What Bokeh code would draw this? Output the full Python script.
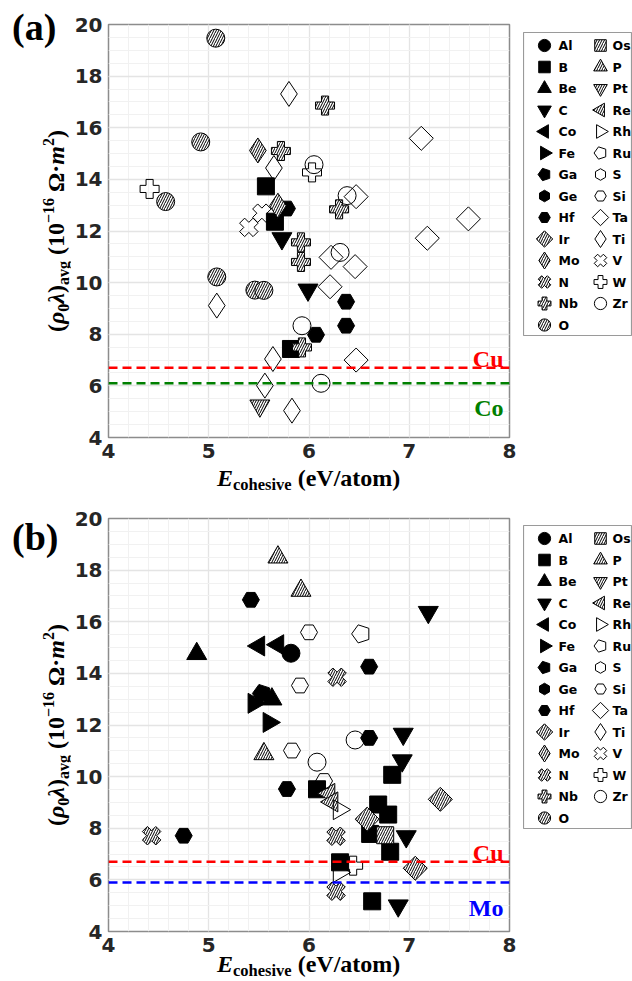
import math
from bokeh.plotting import figure
from bokeh.layouts import column, row
from bokeh.models import Range1d, SingleIntervalTicker, Span, Label, Div
from bokeh.embed import file_html
from bokeh.resources import INLINE
from bokeh.core.properties import value

# ---------------- data ----------------
ELEMENTS = ["Al", "B", "Be", "C", "Co", "Fe", "Ga", "Ge", "Hf", "Ir", "Mo", "N", "Nb", "O",
            "Os", "P", "Pt", "Re", "Rh", "Ru", "S", "Si", "Ta", "Ti", "V", "W", "Zr"]
X_TICKS = [4, 5, 6, 7, 8]
Y_TICKS = [4, 6, 8, 10, 12, 14, 16, 18, 20]

# panel (a): E_cohesive (eV/atom) vs rho0*lambda (1e-16 Ohm m^2)
a_O_x = [5.07, 4.92, 4.57, 5.08, 5.46, 5.55]
a_O_y = [19.47, 15.45, 13.14, 10.22, 9.71, 9.70]
a_Ti_x = [5.80, 5.65, 5.08, 5.64, 5.56, 5.83]
a_Ti_y = [17.31, 14.44, 9.11, 7.04, 6.01, 5.04]
a_Mo_x = [5.49, 5.69]
a_Mo_y = [15.12, 12.98]
a_Nb_x = [6.16, 5.72, 6.30, 5.92, 5.92, 5.93]
a_Nb_y = [16.86, 15.10, 12.84, 11.56, 10.80, 7.49]
a_Zr_x = [6.05, 6.38, 6.31, 5.93, 6.12]
a_Zr_y = [14.57, 13.37, 11.17, 8.33, 6.10]
a_W_x = [6.03, 4.41]
a_W_y = [14.27, 13.63]
a_B_x = [5.57, 5.66, 5.82]
a_B_y = [13.73, 12.36, 7.43]
a_Hf_x = [5.78, 6.37, 6.37, 6.07]
a_Hf_y = [12.87, 9.26, 8.33, 7.98]
a_V_x = [5.53, 5.40]
a_V_y = [12.69, 12.14]
a_C_x = [5.73, 5.99]
a_C_y = [11.71, 9.72]
a_Ta_x = [7.12, 6.47, 7.59, 7.18, 6.22, 6.46, 6.21, 6.47]
a_Ta_y = [15.59, 13.33, 12.47, 11.72, 10.98, 10.62, 9.84, 7.00]
a_Pt_x = [5.51]
a_Pt_y = [5.23]

# panel (b)
b_Al_x = [5.82]
b_Al_y = [14.78]
b_B_x = [6.83, 6.08, 6.69, 6.79, 6.61, 6.81, 6.31, 6.63]
b_B_y = [10.07, 9.51, 8.92, 8.53, 7.78, 7.09, 6.68, 5.17]
b_Be_x = [4.88, 5.63]
b_Be_y = [14.76, 13.00]
b_C_x = [7.19, 6.94, 6.93, 6.97, 6.89]
b_C_y = [16.37, 11.65, 10.62, 7.68, 5.00]
b_Co_x = [5.50, 5.69]
b_Co_y = [15.06, 15.11]
b_Fe_x = [5.45, 5.60]
b_Fe_y = [12.84, 12.10]
b_Ga_x = [5.53]
b_Ga_y = [13.22]
b_Hf_x = [5.42, 6.60, 6.60, 5.78, 4.75]
b_Hf_y = [16.85, 14.26, 11.50, 9.52, 7.71]
b_Ir_x = [7.31, 6.58, 7.06]
b_Ir_y = [9.12, 8.35, 6.45]
b_N_x = [6.28, 4.43, 6.27, 6.27]
b_N_y = [13.85, 7.71, 7.69, 5.56]
b_Os_x = [6.76]
b_Os_y = [7.73]
b_P_x = [5.69, 5.92, 5.55]
b_P_y = [18.50, 17.21, 10.88]
b_Re_x = [6.20, 6.23]
b_Re_y = [9.35, 9.02]
b_Rh_x = [6.30, 6.30]
b_Rh_y = [8.72, 6.29]
b_Ru_x = [6.52]
b_Ru_y = [15.53]
b_Si_x = [6.00, 5.91, 5.83, 6.15]
b_Si_y = [15.59, 13.53, 11.01, 9.83]
b_W_x = [6.44]
b_W_y = [6.55]
b_Zr_x = [6.46, 6.08]
b_Zr_y = [11.42, 10.56]

REF_A_NAMES = ["Cu", "Co"]
REF_A_VALUES = [6.7, 6.1]
REF_B_NAMES = ["Cu", "Mo"]
REF_B_VALUES = [6.7, 5.9]

# ---------------- styles ----------------
H = math.pi / 2
Q = math.pi / 4
STYLE = {
    "Al": ("circle", 0, "solid", 18), "B": ("square", 0, "solid", 17),
    "Be": ("triangle", 0, "solid", 20), "C": ("inverted_triangle", 0, "solid", 20),
    "Co": ("triangle", H, "solid", 20), "Fe": ("triangle", -H, "solid", 20),
    "Ga": ("pentagon", 0, "solid", 19), "Ge": ("hex", math.pi / 6, "solid", 17),
    "Hf": ("hex", 0, "solid", 17), "Ir": ("square", Q, "hatch", 17),
    "Mo": ("diamond", 0, "hatch", 25), "N": ("plus", Q, "hatch", 19),
    "Nb": ("plus", 0, "hatch", 19), "O": ("circle", 0, "hatch", 18),
    "Os": ("square", 0, "hatch", 17), "P": ("triangle", 0, "hatch", 20),
    "Pt": ("inverted_triangle", 0, "hatch", 20), "Re": ("triangle", H, "hatch", 20),
    "Rh": ("triangle", -H, "open", 20), "Ru": ("pentagon", 0, "open", 19),
    "S": ("hex", math.pi / 6, "open", 17), "Si": ("hex", 0, "open", 17),
    "Ta": ("square", Q, "open", 17), "Ti": ("diamond", 0, "open", 25),
    "V": ("plus", Q, "open", 19), "W": ("plus", 0, "open", 19),
    "Zr": ("circle", 0, "open", 18),
}
SERIF = "Liberation Serif"
SANS = "DejaVu Sans"
SERIF_BASE = 0.8375     # baseline offset in a line box with line-height 1em


def collect(prefix):
    g = globals()
    return {el: (g[f"{prefix}_{el}_x"], g[f"{prefix}_{el}_y"])
            for el in ELEMENTS if f"{prefix}_{el}_x" in g}


def draw(fig, xs, ys, el, k=1.0):
    mk, ang, kind, size = STYLE[el]
    size = size * k
    kw = dict(line_color="black", line_width=1)
    if kind == "solid":
        kw.update(fill_color="black")
    elif kind == "open":
        kw.update(fill_color=None)
    else:
        kw.update(fill_color="white", hatch_pattern="/", hatch_color="black",
                  hatch_scale=5, hatch_weight=1)
    if mk == "pentagon":
        try:
            fig.ngon(x=xs, y=ys, radius=size / 2, radius_units="screen", n=5,
                     angle=math.pi / 2, **kw)
            return
        except Exception:
            mk = "hex"
    fig.scatter(x=xs, y=ys, marker=mk, size=size, angle=ang, **kw)


def make_panel(prefix, ref_names, ref_values, ref_colors, ref_offsets, h, top):
    bottom = h - top - 413
    p = figure(width=453, height=h, x_range=Range1d(4, 8), y_range=Range1d(4, 20),
               output_backend="svg", toolbar_location=None, frame_align=False,
               min_border_left=38, min_border_right=14, min_border_top=top,
               min_border_bottom=bottom)
    xt = SingleIntervalTicker(interval=1, num_minor_ticks=5)
    yt = SingleIntervalTicker(interval=2, num_minor_ticks=4)
    p.xaxis.ticker = xt
    p.yaxis.ticker = yt
    p.xgrid.ticker = xt
    p.ygrid.ticker = yt
    for ax in (p.xaxis[0], p.yaxis[0]):
        ax.axis_line_color = None
        ax.major_tick_line_color = None
        ax.minor_tick_line_color = None
        ax.major_tick_out = 0
        ax.major_tick_in = 0
        ax.minor_tick_out = 0
        ax.minor_tick_in = 0
        ax.major_label_standoff = 6
        ax.major_label_text_font = SANS
        ax.major_label_text_font_style = "bold"
        ax.major_label_text_font_size = "20px"
        ax.major_label_text_color = "#262626"
    p.grid.grid_line_color = "#e4e4e4"
    p.grid.grid_line_width = 1.3
    p.grid.minor_grid_line_color = "#f1f1f1"
    p.outline_line_color = "#8c8c8c"
    p.outline_line_width = 1.5

    for el, (xs, ys) in collect(prefix).items():
        draw(p, xs, ys, el)

    for name, v, c, off in zip(ref_names, ref_values, ref_colors, ref_offsets):
        p.add_layout(Span(location=v, dimension="width", line_color=c, line_width=2.5,
                          line_dash="9 5"))
        p.add_layout(Label(x=8, y=v, x_offset=-6, y_offset=off, text=name,
                           text_align="right", text_baseline="alphabetic",
                           text_color=c, text_font=SERIF, text_font_style="bold",
                           text_font_size="24px"))
    return p


def sub(s, size=16, drop=5):
    return f'<span style="font-size:{size}px;position:relative;top:{drop}px;">{s}</span>'


def sup(s):
    return f'<span style="font-size:16px;position:relative;top:-10px;">{s}</span>'


def html_div(w, h, inner):
    html = f'<div style="position:relative;width:{w}px;height:{h}px;">{inner}</div>'
    return Div(text=html, width=w, height=h, margin=0,
               styles={"overflow": "visible", "padding": "0", "margin": "0"})


def make_left(h, tag, tag_base, center_y):
    lab = ("(<i>ρ</i>" + sub("0") + "<i>λ</i>)" + sub("avg") + " (10" + sup("−16")
           + " Ω·<i>m</i>" + sup("2") + ")")
    font = f"font-family:'{SERIF}',serif;font-weight:bold;color:black;white-space:nowrap;"
    inner = (f'<div style="position:absolute;left:4px;top:{tag_base - SERIF_BASE * 38}px;'
             f'font-size:38px;line-height:38px;{font}">{tag}</div>'
             f'<div style="position:absolute;left:49px;top:{center_y}px;font-size:24px;'
             f'line-height:24px;{font}'
             f'transform:translate(-50%,-50%) rotate(-90deg);">{lab}</div>')
    return html_div(62, h, inner)


def make_xlabel(h, lab_base):
    inner = (f'<div style="position:absolute;left:209px;top:{lab_base - SERIF_BASE * 24}px;'
             f"font-family:'{SERIF}',serif;font-weight:bold;font-size:24px;line-height:24px;"
             f'color:black;white-space:nowrap;"><i>E</i>{sub("cohesive", 16.5, 4)} (eV/atom)</div>')
    return html_div(624, h, inner)


def make_legend(h, top):
    bottom = h - top - 303
    L = figure(width=109, height=h, x_range=Range1d(0, 109), y_range=Range1d(0, 303),
               x_axis_type=None, y_axis_type=None, output_backend="svg",
               toolbar_location=None, min_border=0, min_border_left=0,
               min_border_right=0, min_border_top=top, min_border_bottom=bottom,
               frame_align=False)
    L.outline_line_color = "#9a9a9a"
    L.outline_line_width = 1.2
    txs, tys = [], []
    for i, el in enumerate(ELEMENTS):
        col = 0 if i < 14 else 1
        r = i if i < 14 else i - 14
        mx = [21, 77][col]
        ty = 303 - (13 + 21.5 * r)
        draw(L, [mx], [ty], el, k=0.68)
        txs.append([35, 89][col])
        tys.append(ty)
    L.text(x=txs, y=tys, text=ELEMENTS, text_font=value(SANS), text_font_style="bold",
           text_font_size="12.5px", text_baseline="middle", text_color="black")
    return L


# page = 8px margin, then: (a) row 8..467, label 467..496, (b) row 496..961, label 961..981
pa = make_panel("a", REF_A_NAMES, REF_A_VALUES, ["#ff0000", "#008000"], [9, -25], 459, 16)
left_a = make_left(459, "(a)", 32, 222.5)
leg_a = make_legend(459, 24)
xl_a = make_xlabel(29, 19)

pb = make_panel("b", REF_B_NAMES, REF_B_VALUES, ["#ff0000", "#0000ff"], [9, -26], 465, 22)
left_b = make_left(465, "(b)", 54, 228.5)
leg_b = make_legend(465, 29)
xl_b = make_xlabel(20, 11)

layout = column(row(left_a, pa, leg_a), xl_a, row(left_b, pb, leg_b), xl_b,
                margin=(8, 0, 0, 8))
open("out.html", "w").write(file_html(layout, INLINE))
